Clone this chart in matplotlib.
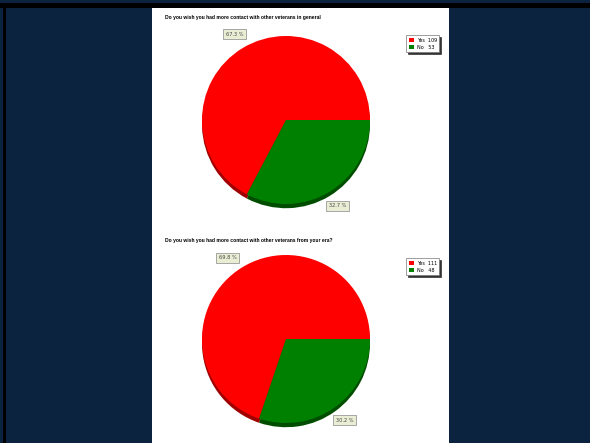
import matplotlib.pyplot as plt
from matplotlib.patches import Rectangle

# données
answers = ["Yes", "No"]
counts_general = [109, 53]
counts_era = [111, 48]
titles = ["Do you wish you had more contact with other veterans in general",
          "Do you wish you had more contact with other veterans from your era?"]

W, H = 590, 443
fig = plt.figure(figsize=(W / 100, H / 100), dpi=100)
fig.patch.set_facecolor("#0c2340")

# bandes noires et page blanche (derrière les camemberts)
fig.patches.append(Rectangle((0, 1 - 8 / H), 1, 5 / H, transform=fig.transFigure,
                             facecolor="black", edgecolor="none", zorder=-10))
fig.patches.append(Rectangle((3 / W, 0), 3 / W, 1 - 8 / H, transform=fig.transFigure,
                             facecolor="black", edgecolor="none", zorder=-10))
fig.patches.append(Rectangle((152 / W, 0), (449 - 152) / W, 1 - 8 / H,
                             transform=fig.transFigure, facecolor="white",
                             edgecolor="none", zorder=-10))

colors = ["#ff0000", "#008000"]
shadow_colors = ["#a00000", "#004d00"]


def draw_pie(counts, title, cx, cy, title_y, legend_y):
    r = 84
    size = 2 * r * 1.25
    ax = fig.add_axes([(cx - size / 2) / W, 1 - (cy + size / 2) / H, size / W, size / H])
    ax.set_xlim(-1.25, 1.25)
    ax.set_ylim(-1.25, 1.25)
    ax.axis("off")
    # ombre / effet 3D
    ax.pie(counts, colors=shadow_colors, startangle=0, center=(0, -0.05), radius=1,
           wedgeprops=dict(linewidth=0))
    wedges, _, autotexts = ax.pie(counts, colors=colors, startangle=0, radius=1,
                                  autopct="%.1f %%", pctdistance=1.19,
                                  wedgeprops=dict(linewidth=0),
                                  textprops=dict(fontsize=3.6, color="#444444"))
    for t in autotexts:
        t.set_bbox(dict(boxstyle="square,pad=0.5", facecolor="#e9edd4",
                        edgecolor="#888888", linewidth=0.5))
    fig.text(165 / W, 1 - title_y / H, title, fontsize=3.6, fontweight="bold",
             family="Liberation Sans", va="center", ha="left")
    labels = ["%-4s %d" % (a, c) for a, c in zip(answers, counts)]
    leg = fig.legend(wedges, labels, loc="upper left",
                     bbox_to_anchor=(404 / W, 1 - legend_y / H),
                     prop=dict(size=3.5), handlelength=1.0, handleheight=1.0,
                     borderpad=0.5, labelspacing=0.35, handletextpad=0.6,
                     fancybox=False, framealpha=1, edgecolor="#777777",
                     shadow=dict(ox=1.2, oy=-1.2, color="#333333", alpha=1))
    leg.get_frame().set_linewidth(0.5)


draw_pie(counts_general, titles[0], 286, 120, 18, 33)
draw_pie(counts_era, titles[1], 286, 339, 240, 256)

fig.savefig("out.png", dpi=100, facecolor=fig.get_facecolor())
